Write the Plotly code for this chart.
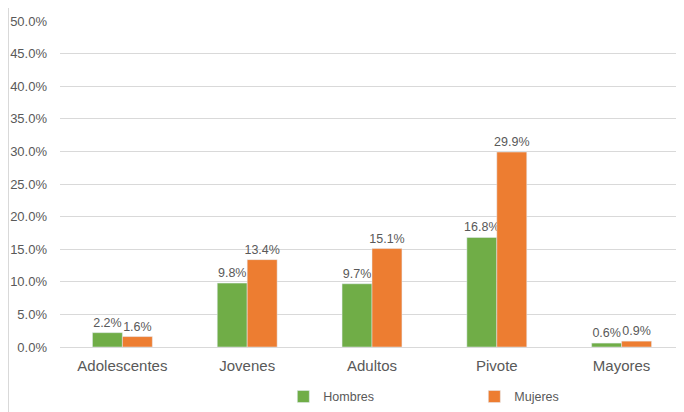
import plotly.graph_objects as go

categories = ["Adolescentes", "Jovenes", "Adultos", "Pivote", "Mayores"]
hombres = [0.022, 0.098, 0.097, 0.168, 0.006]
mujeres = [0.016, 0.134, 0.151, 0.299, 0.009]
tick_vals = [0, 0.05, 0.10, 0.15, 0.20, 0.25, 0.30, 0.35, 0.40, 0.45, 0.50]

GREEN = "#70AD47"
ORANGE = "#ED7D31"
TXT = "#595959"
FONT = "Liberation Sans, Arial, sans-serif"

fig = go.Figure()
fig.add_trace(go.Bar(
    x=categories, y=hombres, name="Hombres", marker_color=GREEN,
    text=[f"{v*100:.1f}%" for v in hombres], textposition="outside",
    textfont=dict(size=12.5, color=TXT, family=FONT), cliponaxis=False,
    constraintext="none",
))
fig.add_trace(go.Bar(
    x=categories, y=mujeres, name="Mujeres", marker_color=ORANGE,
    text=[f"{v*100:.1f}%" for v in mujeres], textposition="outside",
    textfont=dict(size=12.5, color=TXT, family=FONT), cliponaxis=False,
    constraintext="none",
))

fig.update_layout(
    width=676, height=404,
    margin=dict(l=52, r=0, t=13, b=65),
    paper_bgcolor="white", plot_bgcolor="white",
    barmode="group", bargap=0.52, bargroupgap=0,
    font=dict(family=FONT, color=TXT),
    showlegend=True,
    legend=dict(orientation="h", x=0.664, xanchor="center", y=-0.153, yanchor="middle",
                font=dict(size=12.5, color=TXT), entrywidth=146, itemwidth=30),
    xaxis=dict(showline=True, linecolor="#D9D9D9", linewidth=1, ticks="",
               tickfont=dict(size=15, color=TXT), showgrid=False,
               ticklabelstandoff=5),
    yaxis=dict(range=[0, 0.5], tickvals=tick_vals, tickformat=".1%",
               showgrid=True, gridcolor="#D9D9D9", gridwidth=1, zeroline=False,
               tickfont=dict(size=13, color=TXT), ticklabelstandoff=12),
    shapes=[dict(type="line", xref="paper", yref="paper",
                 x0=-51.5/624, x1=-51.5/624, y0=-0.2, y1=1.04,
                 line=dict(color="#D9D9D9", width=1))],
)

fig.write_html("out.html")
